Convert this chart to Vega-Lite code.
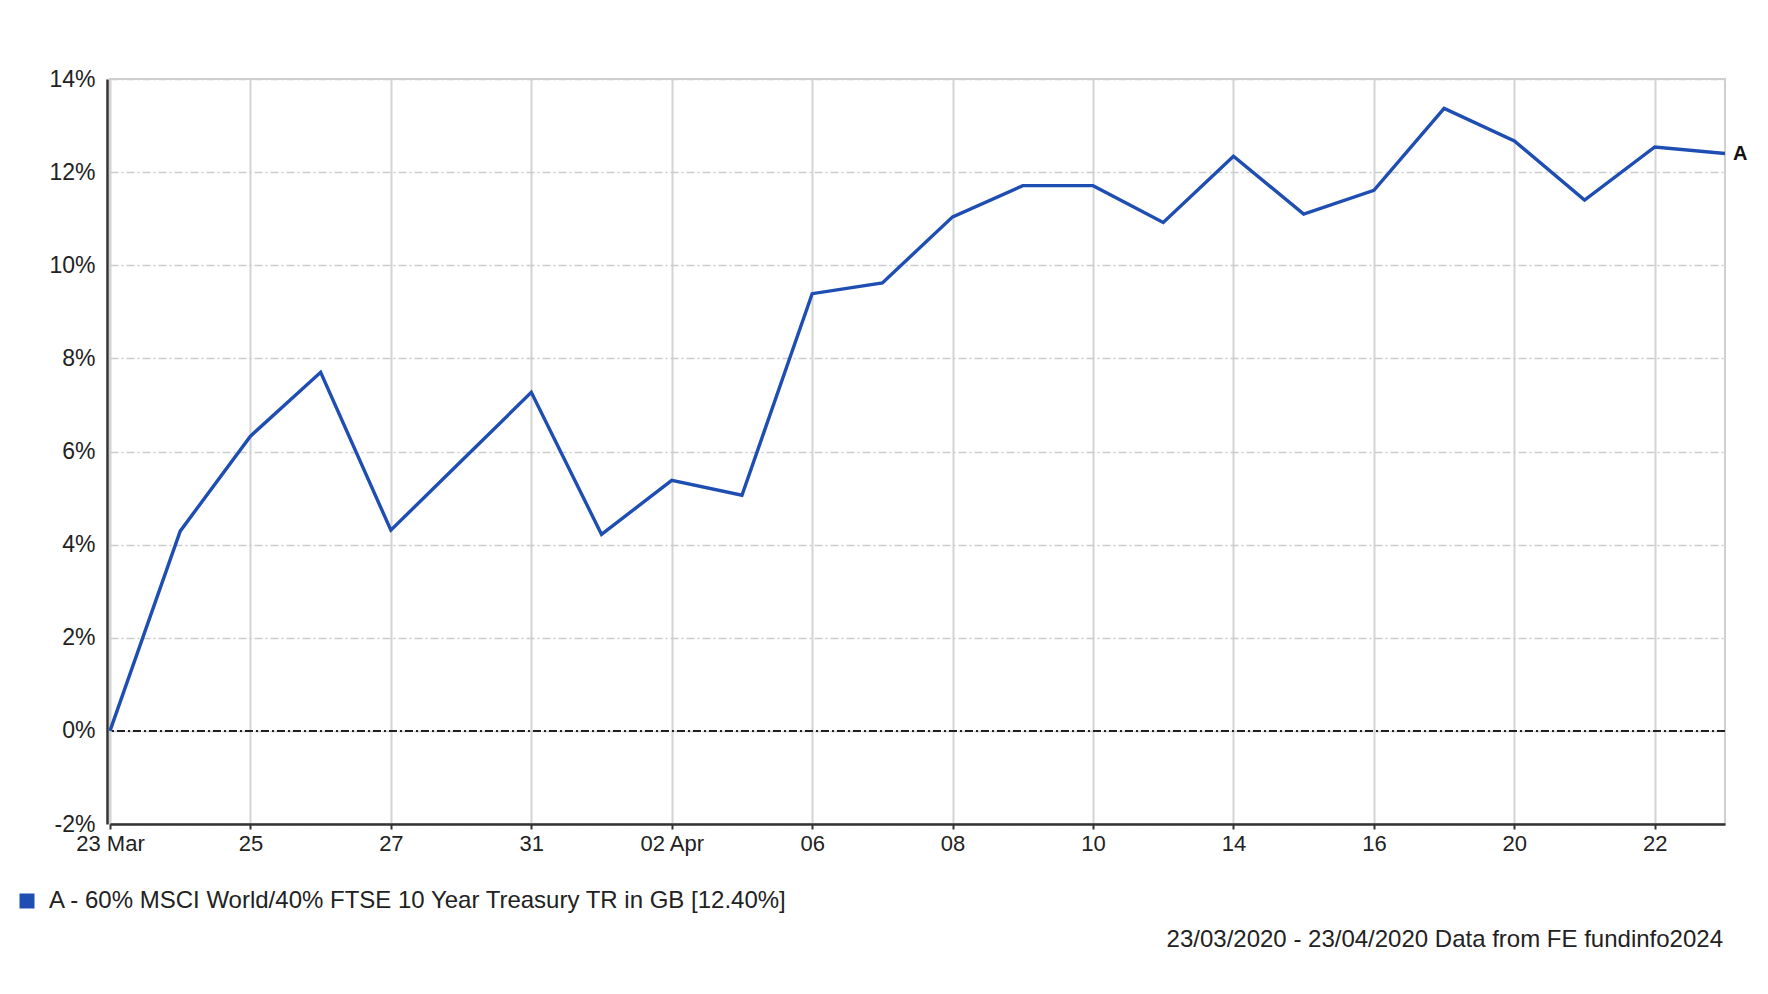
{
  "$schema": "https://vega.github.io/schema/vega-lite/v6.json",
  "width": 1615,
  "height": 745,
  "autosize": {"type": "none"},
  "padding": {"left": 110, "top": 79, "right": 43, "bottom": 170},
  "background": "white",
  "config": {
    "font": "Liberation Sans",
    "view": {"stroke": "#d0d0d0", "strokeWidth": 2},
    "legend": {"labelFont": "Liberation Sans"}
  },
  "title": {
    "text": "23/03/2020 - 23/04/2020 Data from FE fundinfo2024",
    "orient": "bottom",
    "anchor": "end",
    "frame": "group",
    "fontSize": 24,
    "fontWeight": "normal",
    "color": "#222222",
    "font": "Liberation Sans",
    "offset": 15,
    "dx": -2
  },
  "data": {
    "values": [
      {"date": "2020-03-23", "value": 0, "series": "A - 60% MSCI World/40% FTSE 10 Year Treasury TR in GB [12.40%]"},
      {"date": "2020-03-24", "value": 4.29, "series": "A - 60% MSCI World/40% FTSE 10 Year Treasury TR in GB [12.40%]"},
      {"date": "2020-03-25", "value": 6.33, "series": "A - 60% MSCI World/40% FTSE 10 Year Treasury TR in GB [12.40%]"},
      {"date": "2020-03-26", "value": 7.70, "series": "A - 60% MSCI World/40% FTSE 10 Year Treasury TR in GB [12.40%]"},
      {"date": "2020-03-27", "value": 4.31, "series": "A - 60% MSCI World/40% FTSE 10 Year Treasury TR in GB [12.40%]"},
      {"date": "2020-03-30", "value": 5.79, "series": "A - 60% MSCI World/40% FTSE 10 Year Treasury TR in GB [12.40%]"},
      {"date": "2020-03-31", "value": 7.27, "series": "A - 60% MSCI World/40% FTSE 10 Year Treasury TR in GB [12.40%]"},
      {"date": "2020-04-01", "value": 4.22, "series": "A - 60% MSCI World/40% FTSE 10 Year Treasury TR in GB [12.40%]"},
      {"date": "2020-04-02", "value": 5.38, "series": "A - 60% MSCI World/40% FTSE 10 Year Treasury TR in GB [12.40%]"},
      {"date": "2020-04-03", "value": 5.06, "series": "A - 60% MSCI World/40% FTSE 10 Year Treasury TR in GB [12.40%]"},
      {"date": "2020-04-06", "value": 9.39, "series": "A - 60% MSCI World/40% FTSE 10 Year Treasury TR in GB [12.40%]"},
      {"date": "2020-04-07", "value": 9.62, "series": "A - 60% MSCI World/40% FTSE 10 Year Treasury TR in GB [12.40%]"},
      {"date": "2020-04-08", "value": 11.04, "series": "A - 60% MSCI World/40% FTSE 10 Year Treasury TR in GB [12.40%]"},
      {"date": "2020-04-09", "value": 11.71, "series": "A - 60% MSCI World/40% FTSE 10 Year Treasury TR in GB [12.40%]"},
      {"date": "2020-04-10", "value": 11.71, "series": "A - 60% MSCI World/40% FTSE 10 Year Treasury TR in GB [12.40%]"},
      {"date": "2020-04-13", "value": 10.92, "series": "A - 60% MSCI World/40% FTSE 10 Year Treasury TR in GB [12.40%]"},
      {"date": "2020-04-14", "value": 12.34, "series": "A - 60% MSCI World/40% FTSE 10 Year Treasury TR in GB [12.40%]"},
      {"date": "2020-04-15", "value": 11.10, "series": "A - 60% MSCI World/40% FTSE 10 Year Treasury TR in GB [12.40%]"},
      {"date": "2020-04-16", "value": 11.61, "series": "A - 60% MSCI World/40% FTSE 10 Year Treasury TR in GB [12.40%]"},
      {"date": "2020-04-17", "value": 13.37, "series": "A - 60% MSCI World/40% FTSE 10 Year Treasury TR in GB [12.40%]"},
      {"date": "2020-04-20", "value": 12.67, "series": "A - 60% MSCI World/40% FTSE 10 Year Treasury TR in GB [12.40%]"},
      {"date": "2020-04-21", "value": 11.40, "series": "A - 60% MSCI World/40% FTSE 10 Year Treasury TR in GB [12.40%]"},
      {"date": "2020-04-22", "value": 12.54, "series": "A - 60% MSCI World/40% FTSE 10 Year Treasury TR in GB [12.40%]"},
      {"date": "2020-04-23", "value": 12.40, "series": "A - 60% MSCI World/40% FTSE 10 Year Treasury TR in GB [12.40%]"}
    ]
  },
  "encoding": {
    "x": {
      "field": "date",
      "type": "ordinal",
      "scale": {"type": "point", "padding": 0},
      "axis": {
        "title": null,
        "values": ["2020-03-23", "2020-03-25", "2020-03-27", "2020-03-31", "2020-04-02", "2020-04-06", "2020-04-08", "2020-04-10", "2020-04-14", "2020-04-16", "2020-04-20", "2020-04-22"],
        "labelExpr": "datum.value == '2020-03-23' ? '23 Mar' : (datum.value == '2020-04-02' ? '02 Apr' : slice(datum.value, 8))",
        "labelAngle": 0,
        "labelFont": "Liberation Sans",
        "labelFontSize": 22,
        "labelColor": "#222222",
        "labelPadding": 4,
        "domainColor": "#333333",
        "domainWidth": 2.5,
        "tickColor": "#333333",
        "tickSize": 5,
        "tickWidth": 2,
        "grid": true,
        "gridColor": "#d4d4d4",
        "gridWidth": 2
      }
    },
    "y": {
      "field": "value",
      "type": "quantitative",
      "scale": {"domain": [-2, 14], "nice": false, "zero": false},
      "axis": {
        "title": null,
        "values": [-2, 0, 2, 4, 6, 8, 10, 12, 14],
        "labelExpr": "datum.value + '%'",
        "labelFont": "Liberation Sans",
        "labelFontSize": 23,
        "labelColor": "#222222",
        "labelPadding": 12,
        "offset": 3,
        "ticks": false,
        "domainColor": "#333333",
        "domainWidth": 2.5,
        "grid": true,
        "gridColor": "#cccccc",
        "gridWidth": 1.5,
        "gridDash": [8, 3, 2, 3]
      }
    }
  },
  "layer": [
    {
      "mark": {"type": "rule", "color": "#222222", "strokeWidth": 1.5, "strokeDash": [8, 3, 2, 3]},
      "encoding": {"y": {"datum": 0, "type": "quantitative"}, "x": null}
    },
    {
      "mark": {"type": "line", "strokeWidth": 3.4, "strokeJoin": "miter"},
      "encoding": {
        "color": {
          "field": "series",
          "type": "nominal",
          "scale": {"range": ["#1f4eb2"]},
          "legend": {
            "title": null,
            "orient": "none",
            "legendX": -95,
            "legendY": 810,
            "padding": 0,
            "symbolType": "square",
            "symbolSize": 225,
            "symbolFillColor": "#1f4eb2",
            "symbolStrokeColor": "#1f4eb2",
            "symbolStrokeWidth": 0,
            "symbolOpacity": 1,
            "labelFontSize": 24,
            "labelColor": "#222222",
            "labelOffset": 10,
            "labelLimit": 1200
          }
        }
      }
    },
    {
      "transform": [{"filter": "datum.date == '2020-04-23'"}],
      "mark": {"type": "text", "align": "left", "baseline": "middle", "dx": 8, "fontWeight": "bold", "fontSize": 20, "color": "#111111", "font": "Liberation Sans"},
      "encoding": {"text": {"value": "A"}}
    }
  ]
}
